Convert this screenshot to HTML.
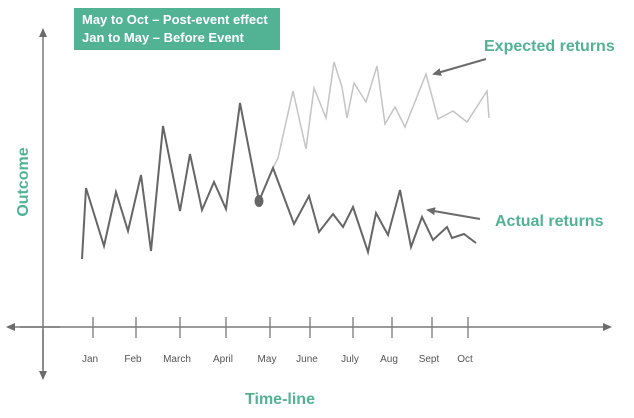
<!DOCTYPE html>
<html><head><meta charset="utf-8"><style>
body{margin:0;background:#fff;width:634px;height:413px;overflow:hidden;font-family:"Liberation Sans",sans-serif}
</style></head><body>
<svg width="634" height="413">
<defs><marker id="ah" markerUnits="userSpaceOnUse" markerWidth="9" markerHeight="8" refX="7" refY="4" orient="auto"><path d="M0,0 L9,4 L0,8 z" fill="#6b6b6b"/></marker></defs>
<g id="axes" stroke="#7a7a7a" stroke-width="1.5" fill="none">
<line x1="43" y1="370" x2="43" y2="30" marker-end="url(#ah)"/>
<line x1="43" y1="330" x2="43" y2="378" marker-end="url(#ah)"/>
<line x1="20" y1="327" x2="610" y2="327" marker-end="url(#ah)"/>
<line x1="60" y1="327" x2="8" y2="327" marker-end="url(#ah)"/>
</g>
<g id="ticks"></g>
<g id="lines"></g>
<rect x="74" y="8" width="206" height="42" fill="#52b394"/>
<text x="82" y="24" fill="#fff" font-size="13" font-weight="bold">May to Oct – Post-event effect</text>
<text x="82" y="42" fill="#fff" font-size="13" font-weight="bold">Jan to May – Before Event</text>
<text x="484" y="51" fill="#52b394" font-size="16" font-weight="bold">Expected returns</text>
<text x="495" y="226" fill="#52b394" font-size="16" font-weight="bold">Actual returns</text>
<line x1="486" y1="59" x2="434" y2="74" stroke="#6b6b6b" stroke-width="2" marker-end="url(#ah)"/>
<line x1="480" y1="219" x2="428" y2="210" stroke="#6b6b6b" stroke-width="2" marker-end="url(#ah)"/>
<text x="280" y="404" fill="#52b394" font-size="16" font-weight="bold" text-anchor="middle">Time-line</text>
<text transform="translate(28,182) rotate(-90)" fill="#52b394" font-size="16" font-weight="bold" text-anchor="middle">Outcome</text>
</svg>
<script>
const months=["Jan","Feb","March","April","May","June","July","Aug","Sept","Oct"];
const monthPos=[53,96,140,186,230,270,313,352,392,428];
const actualT=[42,46,64,76,88,101,111,123,140,150,162,174,186,200,219,233,254,269,279,293,303,313,328,336,348,360,371,382,393,407,412,424,436];
const actualV=[71,142,84,138,99,155,79,204,119,176,120,148,121,227,129,162,106,134,98,116,103,123,78,117,95,140,83,113,90,103,92,96,87];
const expectedT=[233,238,253,266,274,286,294,302,307,314,326,337,345,355,365,386,398,413,427,447,449];
const expectedV=[162,172,239,181,242,212,268,243,212,247,228,264,206,223,203,256,211,219,208,239,212];
const svg=document.querySelector('svg');
const NS='http://www.w3.org/2000/svg';
const xs=t=>40+t, ys=v=>330-v;
const tg=document.getElementById('ticks');
months.forEach((m,i)=>{
 const x=xs(monthPos[i]);
 const l=document.createElementNS(NS,'line');
 l.setAttribute('x1',x);l.setAttribute('x2',x);l.setAttribute('y1',317);l.setAttribute('y2',338);
 l.setAttribute('stroke','#7a7a7a');l.setAttribute('stroke-width','1.3');
 
 
 tg.appendChild(l);
 const t=document.createElementNS(NS,'text');
 t.setAttribute('x',x-3);t.setAttribute('y',362);t.setAttribute('text-anchor','middle');
 t.setAttribute('font-size','10');t.setAttribute('fill','#555');t.textContent=m;
 
 
 tg.appendChild(t);
});
const lg=document.getElementById('lines');
function poly(T,V,col,w,name){
 const p=document.createElementNS(NS,'polyline');
 p.setAttribute('points',T.map((t,i)=>xs(t)+','+ys(V[i])).join(' '));
 p.setAttribute('fill','none');p.setAttribute('stroke',col);p.setAttribute('stroke-width',w);
 p.setAttribute('stroke-linejoin','miter');
 
 
 lg.appendChild(p);
}
poly(expectedT,expectedV,'#c4c4c4',1.5,'expected-returns-line');
poly(actualT,actualV,'#666',2,'actual-returns-line');
const e=document.createElementNS(NS,'ellipse');
e.setAttribute('cx',xs(actualT[14]));e.setAttribute('cy',ys(actualV[14]));e.setAttribute('rx',4.5);e.setAttribute('ry',6);e.setAttribute('fill','#666');


lg.appendChild(e);
</script>
</body></html>
